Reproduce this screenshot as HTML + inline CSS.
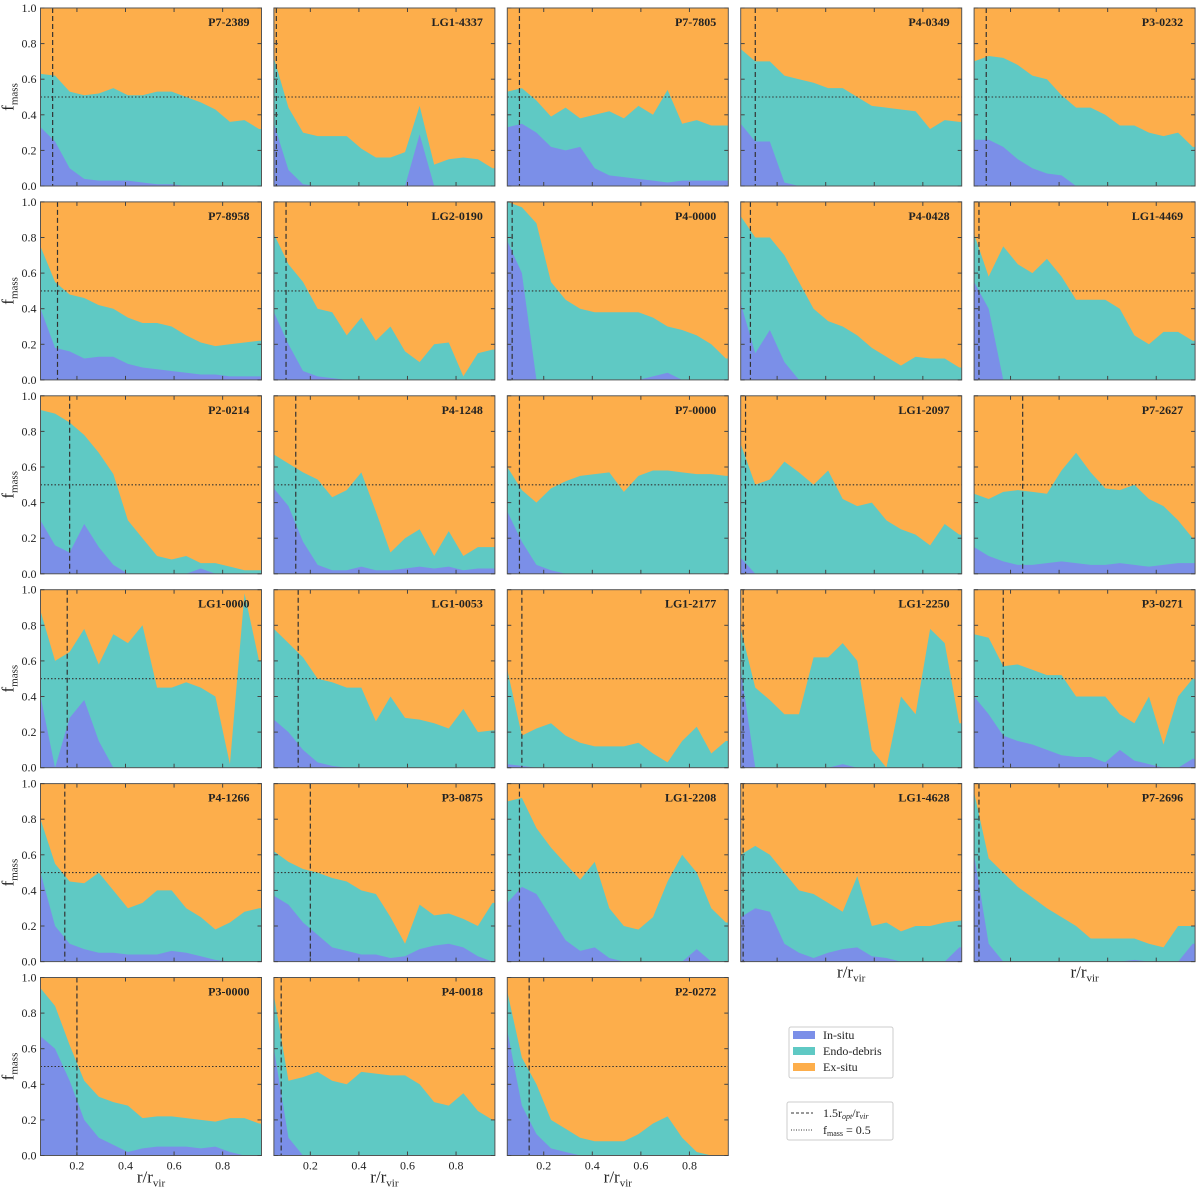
<!DOCTYPE html>
<html><head><meta charset="utf-8"><style>
html,body{margin:0;padding:0;background:#fff;}
svg{display:block;font-family:"Liberation Serif",serif;}
</style></head><body>
<svg id="fig" width="1200" height="1190" viewBox="0 0 1200 1190" xmlns="http://www.w3.org/2000/svg"></svg>
<script>
const xs=[0.05,0.11,0.17,0.23,0.29,0.35,0.41,0.47,0.53,0.59,0.65,0.71,0.77,0.83,0.89,0.95];
const names=["P7-2389","LG1-4337","P7-7805","P4-0349","P3-0232","P7-8958","LG2-0190","P4-0000","P4-0428","LG1-4469","P2-0214","P4-1248","P7-0000","LG1-2097","P7-2627","LG1-0000","LG1-0053","LG1-2177","LG1-2250","P3-0271","P4-1266","P3-0875","LG1-2208","LG1-4628","P7-2696","P3-0000","P4-0018","P2-0272"];
const vlines=[0.10,0.06,0.10,0.11,0.10,0.12,0.10,0.07,0.09,0.07,0.17,0.14,0.10,0.07,0.25,0.16,0.15,0.11,0.06,0.17,0.15,0.20,0.10,0.06,0.07,0.20,0.08,0.14];
const topVals=[
[.63,.62,.53,.51,.52,.55,.51,.51,.53,.53,.50,.47,.43,.36,.37,.32],
[.72,.44,.30,.28,.28,.28,.21,.16,.16,.19,.45,.12,.15,.16,.15,.10],
[.53,.55,.48,.39,.44,.38,.40,.42,.38,.45,.40,.54,.35,.37,.34,.34],
[.77,.70,.70,.62,.60,.58,.55,.55,.50,.45,.44,.43,.42,.32,.37,.36],
[.70,.73,.72,.68,.62,.60,.51,.44,.44,.40,.34,.34,.30,.28,.30,.22],
[.75,.55,.48,.46,.42,.40,.35,.32,.32,.30,.25,.21,.19,.20,.21,.22],
[.82,.65,.55,.40,.38,.25,.35,.22,.30,.16,.10,.20,.21,.02,.15,.17],
[1.0,.97,.88,.55,.45,.40,.38,.38,.38,.38,.35,.30,.28,.25,.20,.12],
[.92,.80,.80,.70,.55,.40,.33,.30,.25,.18,.13,.08,.13,.12,.12,.07],
[.82,.58,.75,.65,.60,.68,.58,.45,.45,.45,.40,.25,.20,.27,.27,.22],
[.92,.90,.85,.78,.68,.56,.30,.20,.10,.08,.10,.06,.06,.04,.02,.02],
[.67,.62,.57,.53,.43,.47,.57,.35,.12,.20,.25,.10,.24,.10,.15,.15],
[.60,.47,.40,.48,.52,.55,.56,.57,.46,.55,.58,.58,.57,.56,.56,.55],
[.73,.50,.53,.63,.57,.50,.58,.42,.38,.40,.30,.25,.22,.16,.28,.22],
[.45,.42,.46,.47,.46,.45,.58,.68,.57,.48,.47,.50,.42,.38,.30,.20],
[.88,.60,.65,.78,.58,.75,.70,.80,.45,.45,.48,.45,.40,.02,.98,.60],
[.78,.70,.62,.50,.48,.45,.45,.26,.40,.28,.27,.25,.22,.33,.20,.21],
[.55,.18,.22,.25,.18,.14,.12,.12,.12,.14,.08,.03,.15,.23,.08,.15],
[.78,.45,.38,.30,.30,.62,.62,.70,.60,.10,.00,.40,.30,.78,.70,.25],
[.75,.73,.57,.58,.55,.52,.52,.40,.40,.40,.30,.25,.40,.13,.40,.50],
[.80,.55,.45,.44,.50,.40,.30,.33,.40,.40,.30,.25,.18,.22,.28,.30],
[.62,.56,.52,.50,.47,.45,.40,.38,.25,.10,.32,.26,.27,.24,.20,.33],
[.90,.92,.75,.64,.55,.46,.56,.30,.20,.18,.25,.45,.60,.50,.30,.22],
[.60,.65,.60,.50,.40,.38,.33,.28,.48,.20,.22,.17,.20,.20,.22,.23],
[.95,.58,.50,.42,.36,.30,.25,.20,.13,.13,.13,.13,.10,.08,.20,.20],
[.94,.84,.62,.42,.33,.30,.28,.21,.22,.22,.21,.20,.19,.21,.21,.18],
[.90,.42,.44,.47,.42,.40,.47,.46,.45,.45,.40,.30,.28,.35,.25,.20],
[.92,.55,.40,.20,.15,.10,.08,.08,.08,.12,.18,.22,.10,.02,.00,.00]];
const inVals=[
[.33,.25,.10,.04,.03,.03,.03,.02,.01,.01,0,0,0,0,0,0],
[.35,.09,.01,0,0,0,0,0,0,0,.29,0,0,0,0,0],
[.33,.35,.30,.22,.20,.22,.10,.06,.05,.04,.03,.02,.03,.03,.03,.03],
[.35,.25,.25,.02,0,0,0,0,0,0,0,0,0,0,0,0],
[.26,.26,.22,.15,.10,.07,.06,0,0,0,0,0,0,0,0,0],
[.40,.18,.16,.12,.13,.13,.09,.07,.06,.05,.04,.03,.03,.02,.02,.02],
[.38,.20,.05,.02,.01,0,0,0,0,0,0,0,0,0,0,0],
[.78,.60,0,0,0,0,0,0,0,0,.02,.04,0,0,0,0],
[.43,.15,.28,.10,0,0,0,0,0,0,0,0,0,0,0,0],
[.55,.40,0,0,0,0,0,0,0,0,0,0,0,0,0,0],
[.30,.16,.12,.28,.15,.05,0,0,0,0,0,.03,0,0,0,0],
[.48,.38,.18,.05,.02,.02,.04,.02,.02,.03,.04,.03,.04,.02,.03,.03],
[.35,.18,.05,.02,0,0,0,0,0,0,0,0,0,0,0,0],
[.09,0,0,0,0,0,0,0,0,0,0,0,0,0,0,0],
[.15,.10,.07,.05,.05,.06,.07,.06,.05,.05,.06,.05,.04,.05,.06,.06],
[.40,0,.28,.38,.15,0,0,0,0,0,0,0,0,0,0,0],
[.27,.20,.10,.03,.01,0,0,0,0,0,0,0,0,0,0,0],
[.02,.01,0,0,0,0,0,0,0,0,0,0,0,0,0,0],
[.55,0,0,0,0,0,0,.02,0,0,0,0,0,0,0,0],
[.40,.30,.18,.15,.13,.10,.07,.06,.06,.03,.10,.04,.02,0,0,.05],
[.50,.20,.10,.07,.05,.05,.04,.04,.04,.06,.05,.03,.01,0,0,0],
[.37,.32,.22,.15,.08,.06,.04,.04,.02,.03,.07,.09,.10,.08,.03,0],
[.33,.42,.38,.25,.12,.06,.08,.02,0,0,0,0,0,.07,0,0],
[.25,.30,.28,.10,.05,.02,.05,.07,.08,.03,.02,0,0,0,0,.08],
[.60,.10,0,0,0,0,0,0,0,0,0,.01,0,0,0,.10],
[.67,.60,.42,.20,.10,.06,.02,.04,.05,.05,.05,.04,.05,.02,0,0],
[.60,.10,0,0,0,0,0,0,0,0,0,0,0,0,0,0],
[.70,.28,.12,.04,.02,0,0,0,0,0,0,0,0,0,0,0]];
const xTicks=[0.2,0.4,0.6,0.8];
const yTicks=[0,0.2,0.4,0.6,0.8,1.0];

const NS="http://www.w3.org/2000/svg";
const svg=document.getElementById('fig');
const C_IN="#7b8fe8",C_EN="#5fc9c4",C_EX="#fdae4b";
const PW=221,PH=178,X0=40.5,Y0=8,DX=233.4,DY=193.9,XMIN=0.05,XMAX=0.96;
function mk(tag,attrs,parent){const e=document.createElementNS(NS,tag);for(const k in attrs)e.setAttribute(k,attrs[k]);(parent||svg).appendChild(e);return e;}
names.forEach((nm,i)=>{
  const col=i%5,row=Math.floor(i/5);
  const L=X0+col*DX,T=Y0+row*DY;
  const sx=v=>L+(v-XMIN)/(XMAX-XMIN)*PW;
  const sy=v=>T+PH-v*PH;
  const g=mk('g',{});
  
  
  const cp=mk('clipPath',{id:'c'+i},g);mk('rect',{x:L,y:T,width:PW,height:PH},cp);
  const inner=mk('g',{'clip-path':'url(#c'+i+')'},g);
  const bg=mk('rect',{x:L,y:T,width:PW,height:PH,fill:C_EX},inner);
  
  
  const ext=[XMIN-0.01].concat(xs,[XMAX+0.01]);
  const tv=[topVals[i][0]].concat(topVals[i],[topVals[i][15]]);
  const iv=[inVals[i][0]].concat(inVals[i],[inVals[i][15]]);
  let d='M'+sx(ext[0])+','+sy(0);ext.forEach((x,k)=>d+=' L'+sx(x)+','+sy(tv[k]));d+=' L'+sx(ext[ext.length-1])+','+sy(0)+'Z';
  const pe=mk('path',{d:d,fill:C_EN},inner);
  
  
  d='M'+sx(ext[0])+','+sy(0);ext.forEach((x,k)=>d+=' L'+sx(x)+','+sy(iv[k]));d+=' L'+sx(ext[ext.length-1])+','+sy(0)+'Z';
  const pi=mk('path',{d:d,fill:C_IN},inner);
  
  
  const hl=mk('line',{x1:L,x2:L+PW,y1:sy(0.5),y2:sy(0.5),stroke:'#333','stroke-width':1.1,'stroke-dasharray':'1.5,2'},g);
  
  
  const vl=mk('line',{x1:sx(vlines[i]),x2:sx(vlines[i]),y1:T,y2:T+PH,stroke:'#333','stroke-width':1.2,'stroke-dasharray':'5,3'},g);
  
  
  mk('rect',{x:L,y:T,width:PW,height:PH,fill:'none',stroke:'#555','stroke-width':1},g);
  xTicks.forEach(t=>{mk('line',{x1:sx(t),x2:sx(t),y1:T+PH,y2:T+PH-4,stroke:'#444'},g);mk('line',{x1:sx(t),x2:sx(t),y1:T,y2:T+4,stroke:'#444'},g);});
  yTicks.forEach(t=>{mk('line',{x1:L,x2:L+4,y1:sy(t),y2:sy(t),stroke:'#444'},g);mk('line',{x1:L+PW,x2:L+PW-4,y1:sy(t),y2:sy(t),stroke:'#444'},g);});
  const tl=mk('text',{x:L+PW-12,y:T+18,'text-anchor':'end','font-size':12,'font-weight':'bold',fill:'#222'},g);
  tl.textContent=nm;
  
  
  if(col===0){
    yTicks.forEach(t=>{const tx=mk('text',{x:L-4,y:sy(t)+4,'text-anchor':'end','font-size':12,fill:'#222'},g);tx.textContent=t.toFixed(1);
      
      });
    const yl=mk('text',{transform:'translate('+(L-27)+','+(T+PH/2)+') rotate(-90)','text-anchor':'middle','font-size':17,fill:'#222'},g);
    yl.innerHTML='f<tspan font-size="11" dy="4">mass</tspan>';
    
    
  }
  const bottom=(row===5)||(row===4&&col>=3);
  if(bottom){
    if(row===5){xTicks.forEach(t=>{const tx=mk('text',{x:sx(t),y:T+PH+14,'text-anchor':'middle','font-size':12,fill:'#222'},g);tx.textContent=t.toFixed(1);
      
      });}
    const xl=mk('text',{x:L+PW/2,y:T+PH+(row===5?27:16),'text-anchor':'middle','font-size':17,fill:'#222'},g);
    xl.innerHTML='r/r<tspan font-size="11" dy="4">vir</tspan>';
    
    
  }
});
</script>
<svg style="position:absolute;left:0;top:0" width="1200" height="1190">
<g font-family="Liberation Serif, serif" font-size="12" fill="#222">
<rect x="789" y="1027" width="104" height="51" rx="2" fill="#fff" stroke="#ccc"/>
<rect x="793" y="1031" width="22" height="8" fill="#7b8fe8"/>
<text x="823" y="1039">In-situ</text>
<rect x="793" y="1047" width="22" height="8" fill="#5fc9c4"/>
<text x="823" y="1055">Endo-debris</text>
<rect x="793" y="1063" width="22" height="8" fill="#fdae4b"/>
<text x="823" y="1071">Ex-situ</text>
</g>
<g font-family="Liberation Serif, serif" font-size="12" fill="#222">
<rect x="787" y="1102" width="106" height="38" rx="2" fill="#fff" stroke="#ccc"/>
<line x1="791" x2="813" y1="1113" y2="1113" stroke="#333" stroke-dasharray="3,2"/>
<text x="823" y="1117">1.5r<tspan font-size="8" dy="2" font-style="italic">opt</tspan><tspan dy="-2">/r</tspan><tspan font-size="8" dy="2" font-style="italic">vir</tspan></text>
<line x1="791" x2="813" y1="1130" y2="1130" stroke="#333" stroke-dasharray="1,1.5"/>
<text x="823" y="1134">f<tspan font-size="8" dy="2">mass</tspan><tspan dy="-2"> = 0.5</tspan></text>
</g>
</svg>
</body></html>
